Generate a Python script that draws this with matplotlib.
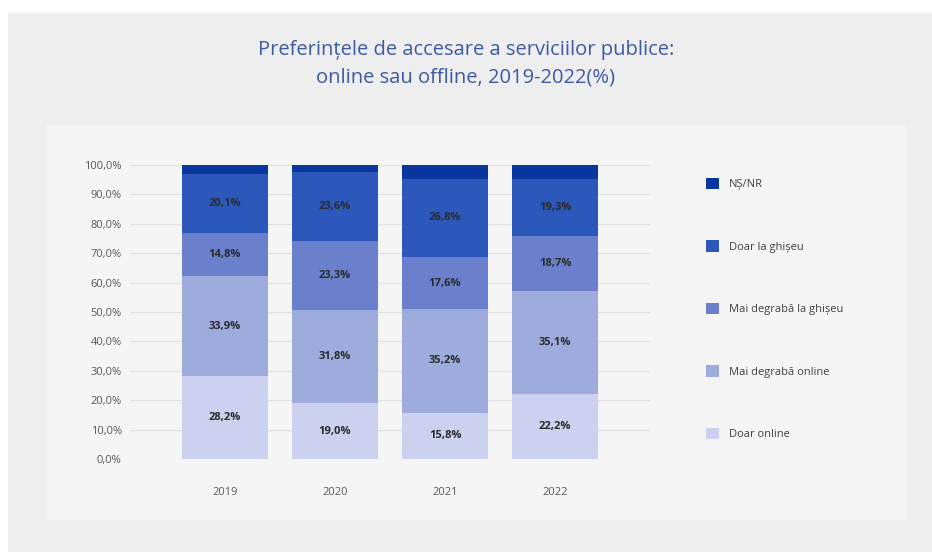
import matplotlib.pyplot as plt
import numpy as np
from matplotlib.patches import Rectangle

W, H = 932, 552

years = ["2019", "2020", "2021", "2022"]
series = ["Doar online", "Mai degrabă online", "Mai degrabă la ghișeu", "Doar la ghișeu", "NȘ/NR"]
doar_online = [28.2, 19.0, 15.8, 22.2]
mai_online = [33.9, 31.8, 35.2, 35.1]
mai_ghiseu = [14.8, 23.3, 17.6, 18.7]
doar_ghiseu = [20.1, 23.6, 26.8, 19.3]
ns_nr = [3.0, 2.3, 4.6, 4.7]
yticks = [0, 10, 20, 30, 40, 50, 60, 70, 80, 90, 100]

colors = ["#cbd1ee", "#9dacdc", "#6b80cd", "#2c58bb", "#0a36a0"]

plt.rcParams["font.family"] = ["Open Sans", "DejaVu Sans"]


def px(x, y):
    # pixel coords (top-left origin) -> figure fraction
    return x / W, 1 - y / H


fig = plt.figure(figsize=(W / 100, H / 100), dpi=100, facecolor="white")

# outer gray panel and inner lighter panel
x0, y0 = px(8, 552)
fig.patches.append(Rectangle((x0, y0), 1 - x0, (552 - 13) / H, transform=fig.transFigure,
                             facecolor="#eeeeee", edgecolor="none", zorder=-10))
x0, y0 = px(47, 520)
fig.patches.append(Rectangle((x0, y0), (907 - 47) / W, (520 - 125) / H, transform=fig.transFigure,
                             facecolor="#f5f5f5", edgecolor="none", zorder=-9))

fig.text(0.5, 1 - 50 / H, "Preferințele de accesare a serviciilor publice:",
         ha="center", va="center", fontsize=14.5, color="#3b5ba5")
fig.text(0.5, 1 - 78 / H, "online sau offline, 2019-2022(%)",
         ha="center", va="center", fontsize=14.5, color="#3b5ba5")

left, bottom = px(130, 459)
right, top = px(650, 165)
ax = fig.add_axes([left, bottom, right - left, top - bottom])
ax.set_facecolor("none")

data = [doar_online, mai_online, mai_ghiseu, doar_ghiseu, ns_nr]
x = np.arange(len(years))
base = np.zeros(len(years))
handles = []
for i, (vals, name) in enumerate(zip(data, series)):
    vals = np.array(vals)
    bars = ax.bar(x, vals, 0.78, bottom=base, color=colors[i], label=name, zorder=2)
    handles.append(bars)
    if name != "NȘ/NR":
        for xi, b, v in zip(x, base, vals):
            ax.text(xi, b + v / 2, f"{v:.1f}%".replace(".", ","), ha="center", va="center",
                    fontsize=8, fontweight="bold", color="#2b2b2b", zorder=3)
    base += vals

ax.set_xlim(-0.86, 3.86)
ax.set_ylim(0, 100)
ax.set_yticks(yticks)
ax.set_yticklabels([f"{t:.1f}%".replace(".", ",") for t in yticks])
ax.set_xticks(x)
ax.set_xticklabels(years)
ax.tick_params(axis="both", length=0, labelsize=8, labelcolor="#595959")
ax.tick_params(axis="x", pad=20)
ax.tick_params(axis="y", pad=6)
ax.grid(axis="y", color="#e0e0e0", linewidth=0.8, zorder=0)
for s in ax.spines.values():
    s.set_visible(False)

leg = fig.legend(handles[::-1], series[::-1], loc="upper left",
                 bbox_to_anchor=px(696, 168), frameon=False, fontsize=8,
                 handlelength=1.2, handleheight=1.2, handletextpad=0.9,
                 labelspacing=4.5, labelcolor="#404040")

fig.savefig("out.png", dpi=100, facecolor=fig.get_facecolor())
